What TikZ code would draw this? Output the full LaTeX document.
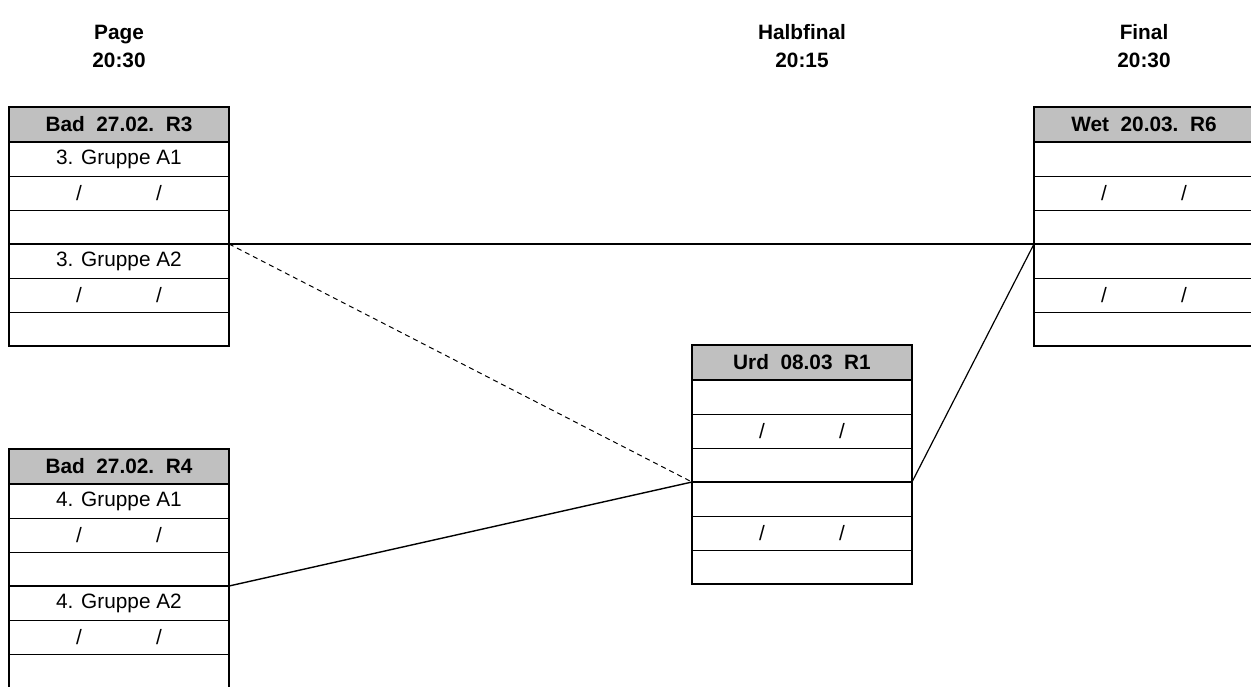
\documentclass[tikz,border=0pt]{standalone}
\usepackage{fontspec}
\setmainfont{Liberation Sans}
\definecolor{kopfgrau}{RGB}{192, 192, 192}
\usepackage{tikz}
\usetikzlibrary{positioning}
\newcommand{\schraeg}{/\hspace{37.1pt}/}

\begin{document}
\begin{tikzpicture}[x=0.5pt, y=-0.5pt,
  every node/.style={font=\fontsize{10.4pt}{12.5pt}\selectfont},
  kopf/.style={draw, line width=0.5pt, fill=kopfgrau, font=\fontsize{10.4pt}{12.5pt}\selectfont\bfseries, minimum width=110pt, minimum height=17.5pt, inner sep=0pt, outer sep=0pt},
  zeile/.style={draw, line width=0.5pt, minimum width=110pt, minimum height=17pt, inner sep=0pt, outer sep=0pt},
  rahmen/.style={line width=1pt},
  runde/.style={font=\fontsize{10.4pt}{12.5pt}\selectfont\bfseries, align=center}]
  \useasboundingbox (0, 0) rectangle (1251, 686);

  % Round headings
  \node[runde] (page) at (119, 46) {Page\\[1.5pt]20:30};
  \node[runde] (halb) at (802, 46) {Halbfinal\\[1.5pt]20:15};
  \node[runde] (final) at (1144, 46) {Final\\[1.5pt]20:30};

  % Match tables
  \foreach \n/\x/\y/\t/\a/\b in {
    R3/9/107/{Bad\ \ 27.02.\ \ R3}/{3. Gruppe A1}/{3. Gruppe A2},
    R4/9/449/{Bad\ \ 27.02.\ \ R4}/{4. Gruppe A1}/{4. Gruppe A2},
    Urd/692/345/{Urd\ \ 08.03\ \ R1}/{}/{},
    Wet/1034/107/{Wet\ \ 20.03.\ \ R6}/{}/{}}
  {
    \node[kopf, anchor=north west] (\n-h) at (\x, \y) {\t};
    \node[zeile, below=0pt of \n-h] (\n-1) {\a};
    \node[zeile, below=0pt of \n-1] (\n-2) {\schraeg};
    \node[zeile, below=0pt of \n-2] (\n-3) {};
    \node[zeile, below=0pt of \n-3] (\n-4) {\b};
    \node[zeile, below=0pt of \n-4] (\n-5) {\schraeg};
    \node[zeile, below=0pt of \n-5] (\n-6) {};
    \draw[rahmen] (\n-h.north west) rectangle (\n-6.south east);
    \draw[rahmen] (\n-h.south west) -- (\n-h.south east);
    \draw[rahmen] (\n-3.south west) -- (\n-3.south east);
  }

  % Connections
  \draw[line width=1pt] (R3-3.south east) -- (Wet-3.south west);
  \draw[line width=0.5pt, dash pattern=on 2.5pt off 2pt] (R3-3.south east) -- (Urd-3.south west);
  \draw[line width=0.7pt] (R4-3.south east) -- (Urd-3.south west);
  \draw[line width=0.6pt] (Urd-3.south east) -- (Wet-3.south west);
\end{tikzpicture}
\end{document}
